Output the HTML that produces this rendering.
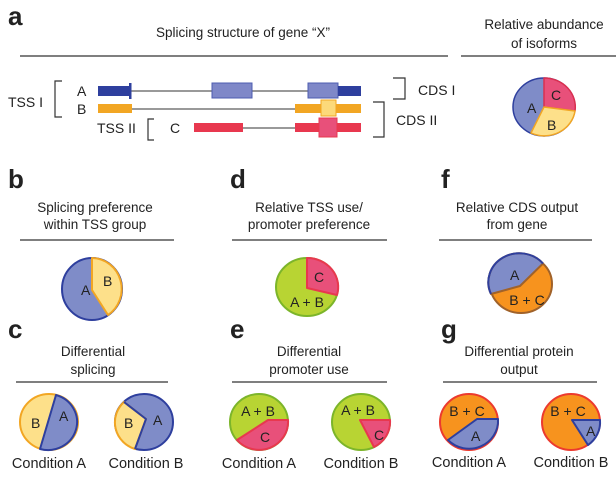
<!DOCTYPE html>
<html><head><meta charset="utf-8"><style>
html,body{margin:0;padding:0;background:#fff;overflow:hidden}
svg{display:block}
text{font-family:"Liberation Sans",sans-serif;fill:#222}
.t{font-size:13.5px;text-anchor:middle}
.big{font-size:26px;font-weight:bold}
.l{font-size:14px}
.m{font-size:14px;text-anchor:middle}
.c{font-size:14.5px;text-anchor:middle}
</style></head><body>
<svg width="616" height="482" viewBox="0 0 616 482" xmlns="http://www.w3.org/2000/svg">
<text x="8" y="25" class="big">a</text>
<text x="243" y="37" class="t">Splicing structure of gene “X”</text>
<text x="544" y="29" class="t">Relative abundance</text>
<text x="544" y="48" class="t">of isoforms</text>
<line x1="20" y1="56" x2="448" y2="56" stroke="#333" stroke-width="1.2"/>
<line x1="461" y1="56" x2="616" y2="56" stroke="#333" stroke-width="1.2"/>
<path d="M62,81 H55 V117 H62" fill="none" stroke="#333" stroke-width="1.2"/>
<text x="8" y="107" class="l">TSS I</text>
<text x="77" y="96" class="l">A</text>
<text x="77" y="114" class="l">B</text>
<text x="97" y="133" class="l">TSS II</text>
<path d="M154,119 H148 V140 H154" fill="none" stroke="#333" stroke-width="1.2"/>
<text x="170" y="133" class="l">C</text>
<path d="M393,78 H405 V99 H393" fill="none" stroke="#333" stroke-width="1.2"/>
<text x="418" y="95" class="l">CDS I</text>
<path d="M373,102 H384 V137 H373" fill="none" stroke="#333" stroke-width="1.2"/>
<text x="396" y="125" class="l">CDS II</text>
<line x1="130" y1="91" x2="340" y2="91" stroke="#333" stroke-width="1"/>
<rect x="98" y="86" width="32" height="10" fill="#2e3f9e"/>
<rect x="129" y="83" width="2.5" height="16" fill="#2e3f9e"/>
<rect x="212" y="83" width="40" height="15" fill="#7f88c8" stroke="#4d5cb0" stroke-width="1"/>
<rect x="308" y="83" width="30" height="15" fill="#7f88c8" stroke="#4d5cb0" stroke-width="1"/>
<rect x="338" y="86" width="23" height="10" fill="#2e3f9e"/>
<line x1="130" y1="109" x2="296" y2="109" stroke="#333" stroke-width="1"/>
<rect x="98" y="104" width="34" height="9" fill="#f2a623"/>
<rect x="295" y="104" width="66" height="9" fill="#f2a623"/>
<rect x="321" y="100" width="15" height="16" fill="#fcd97a" stroke="#f2a623" stroke-width="1"/>
<line x1="243" y1="128" x2="296" y2="128" stroke="#333" stroke-width="1"/>
<rect x="194" y="123" width="49" height="9" fill="#e8384f"/>
<rect x="295" y="123" width="66" height="9" fill="#e8384f"/>
<rect x="319" y="118" width="18" height="19" fill="#e8507a" stroke="#e8384f" stroke-width="1"/>
<g stroke-width="1.5" stroke-linejoin="round">
<ellipse cx="544" cy="107" rx="31" ry="29" fill="#7f8cc8" stroke="#2e3f9e"/>
<path d="M544,107 L544,78 A31,29 0 0 1 575,111 Z" fill="#e8507a" stroke="#d93050"/>
<path d="M544,107 L575,111 A31,29 0 0 1 531,133 Z" fill="#fde08a" stroke="#f2a623"/>
</g>
<text x="527" y="113" class="l">A</text>
<text x="551" y="100" class="l">C</text>
<text x="547" y="130" class="l">B</text>

<text x="8" y="188" class="big">b</text>
<text x="230" y="188" class="big">d</text>
<text x="441" y="188" class="big">f</text>
<text x="95" y="212" class="t">Splicing preference</text>
<text x="95" y="229" class="t">within TSS group</text>
<line x1="20" y1="240" x2="174" y2="240" stroke="#333" stroke-width="1.2"/>
<text x="309" y="212" class="t">Relative TSS use/</text>
<text x="309" y="229" class="t">promoter preference</text>
<line x1="232" y1="240" x2="387" y2="240" stroke="#333" stroke-width="1.2"/>
<text x="517" y="212" class="t">Relative CDS output</text>
<text x="517" y="229" class="t">from gene</text>
<line x1="439" y1="240" x2="592" y2="240" stroke="#333" stroke-width="1.2"/>

<g stroke-width="2" stroke-linejoin="round">
<ellipse cx="92" cy="289" rx="30" ry="31" fill="#7f8cc8" stroke="#2e3f9e"/>
<path d="M92,258 L92,290 L108,315 A30,31 0 0 0 92,258 Z" fill="#fde08a" stroke="#f2a623"/>
<ellipse cx="307" cy="287" rx="31" ry="29" fill="#b8d433" stroke="#7cb52a"/>
<path d="M307,258 L307,288 L337,295 A31,29 0 0 0 307,258 Z" fill="#e8507a" stroke="#e8384f"/>
<ellipse cx="521" cy="284" rx="31" ry="29" fill="#f7931e" stroke="#a0622a"/>
<path d="M491,294 L520,286 L543,263.5 A31,29 0 0 0 491,294 Z" fill="#7f8cc8" stroke="#a0622a"/>
<path d="M543,263.5 A31,29 0 0 0 491,294" fill="none" stroke="#2e3f9e"/>
</g>
<text x="81" y="295" class="l">A</text>
<text x="103" y="286" class="l">B</text>
<text x="314" y="282" class="l">C</text>
<text x="307" y="307" class="m">A + B</text>
<text x="510" y="280" class="l">A</text>
<text x="527" y="305" class="m">B + C</text>

<text x="8" y="338" class="big">c</text>
<text x="230" y="338" class="big">e</text>
<text x="441" y="338" class="big">g</text>
<text x="93" y="356" class="t">Differential</text>
<text x="93" y="374" class="t">splicing</text>
<line x1="16" y1="382" x2="168" y2="382" stroke="#333" stroke-width="1.2"/>
<text x="309" y="356" class="t">Differential</text>
<text x="309" y="374" class="t">promoter use</text>
<line x1="232" y1="382" x2="387" y2="382" stroke="#333" stroke-width="1.2"/>
<text x="519" y="356" class="t">Differential protein</text>
<text x="519" y="374" class="t">output</text>
<line x1="443" y1="382" x2="597" y2="382" stroke="#333" stroke-width="1.2"/>

<g stroke-width="2" stroke-linejoin="round">
<ellipse cx="49" cy="422" rx="29" ry="28" fill="#fde08a" stroke="#f2a623"/>
<path d="M56,395 L40,449 A29,28 0 0 0 56,395 Z" fill="#7f8cc8" stroke="#2e3f9e"/>
<ellipse cx="144" cy="422" rx="29" ry="28" fill="#7f8cc8" stroke="#2e3f9e"/>
<path d="M124,402 L146,419 L135,449 A29,28 0 0 1 124,402 Z" fill="#fde08a" stroke="#f2a623"/>
<path d="M124,402 L146,419 L135,449" fill="none" stroke="#2e3f9e"/>
<ellipse cx="259" cy="422" rx="29" ry="28" fill="#b8d433" stroke="#7cb52a"/>
<path d="M237,440 L268,420 L288,420 A29,28 0 0 1 237,440 Z" fill="#e8507a" stroke="#e8384f"/>
<ellipse cx="361" cy="422" rx="29" ry="28" fill="#b8d433" stroke="#7cb52a"/>
<path d="M360,420 L390,420 A29,28 0 0 1 374,447 Z" fill="#e8507a" stroke="#e8384f"/>
<ellipse cx="469" cy="422" rx="29" ry="28" fill="#f7931e" stroke="#ec3a2e"/>
<path d="M448,440 L477,419 L498,419 A29,28 0 0 1 448,440 Z" fill="#7f8cc8" stroke="#2e3f9e"/>
<ellipse cx="571" cy="422" rx="29" ry="28" fill="#f7931e" stroke="#ec3a2e"/>
<path d="M572,420 L600,420 A29,28 0 0 1 588,445 Z" fill="#7f8cc8" stroke="#2e3f9e"/>
</g>
<text x="31" y="428" class="l">B</text>
<text x="59" y="421" class="l">A</text>
<text x="124" y="428" class="l">B</text>
<text x="153" y="425" class="l">A</text>
<text x="258" y="416" class="m">A + B</text>
<text x="260" y="442" class="l">C</text>
<text x="358" y="415" class="m">A + B</text>
<text x="374" y="440" class="l">C</text>
<text x="467" y="416" class="m">B + C</text>
<text x="471" y="441" class="l">A</text>
<text x="568" y="416" class="m">B + C</text>
<text x="586" y="436" class="l">A</text>

<text x="49" y="468" class="c">Condition A</text>
<text x="146" y="468" class="c">Condition B</text>
<text x="259" y="468" class="c">Condition A</text>
<text x="361" y="468" class="c">Condition B</text>
<text x="469" y="467" class="c">Condition A</text>
<text x="571" y="467" class="c">Condition B</text>
</svg>
</body></html>
